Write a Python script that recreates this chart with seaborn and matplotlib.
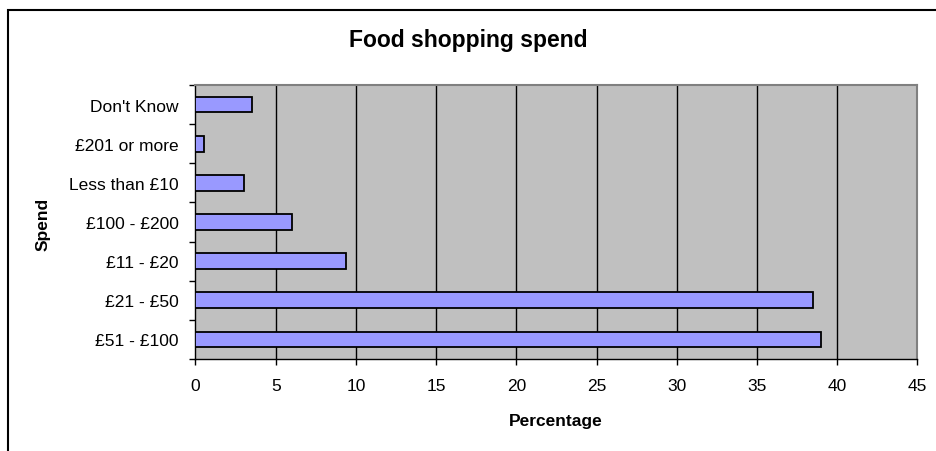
import matplotlib
matplotlib.use("Agg")
import matplotlib.pyplot as plt
import seaborn as sns
import pandas as pd
from matplotlib.patches import Rectangle
from matplotlib.ticker import FixedLocator

# Values
spend_bands = ["Don't Know", "£201 or more", "Less than £10", "£100 - £200",
               "£11 - £20", "£21 - £50", "£51 - £100"]
percentages = [3.5, 0.5, 3.0, 6.0, 9.4, 38.5, 39.0]
x_ticks = [0, 5, 10, 15, 20, 25, 30, 35, 40, 45]

df = pd.DataFrame({"Spend": spend_bands, "Percentage": percentages})

sns.set_style("white")
plt.rcParams["font.family"] = ["Liberation Sans", "DejaVu Sans"]
plt.rcParams["text.color"] = "black"
plt.rcParams["xtick.color"] = "black"
plt.rcParams["ytick.color"] = "black"
plt.rcParams["xtick.labelcolor"] = "black"
plt.rcParams["ytick.labelcolor"] = "black"

fig = plt.figure(figsize=(9.37, 4.52), dpi=100)
ax = fig.add_axes([195.5 / 937, 1 - 360 / 452, (917.3 - 195.5) / 937, (360 - 86) / 452])

sns.barplot(data=df, x="Percentage", y="Spend", orient="h", color="#9999FF",
            saturation=1, width=0.4, edgecolor="black", linewidth=1.3, ax=ax,
            zorder=3)

ax.set_facecolor("#C0C0C0")
ax.set_xlim(0, 45)
ax.set_ylim(6.5, -0.5)
ax.set_xticks(x_ticks)
ax.set_xticklabels([str(t) for t in x_ticks])
for t in x_ticks[1:-1]:
    ax.axvline(t, color="black", lw=1, zorder=1)

ax.yaxis.set_minor_locator(FixedLocator([i - 0.5 for i in range(8)]))
ax.tick_params(axis="y", which="major", length=0, pad=12, labelsize=12.5, left=True,
               labelcolor="black")
ax.tick_params(axis="y", which="minor", length=4, width=1, color="black", left=True)
ax.tick_params(axis="x", which="major", length=4, width=1, color="black", pad=10,
               labelsize=12.5, bottom=True, labelcolor="black")

for side in ["top", "right"]:
    ax.spines[side].set_color("#808080")
    ax.spines[side].set_linewidth(1.5)
for side in ["left", "bottom"]:
    ax.spines[side].set_color("black")
    ax.spines[side].set_linewidth(1)

ax.set_xlabel("")
ax.set_ylabel("")

fig.text(0.5, 1 - 40 / 452, "Food shopping spend", ha="center", va="center",
         fontsize=16.5, fontweight="bold", color="black")
fig.text(556 / 937, 1 - 422 / 452, "Percentage", ha="center", va="center",
         fontsize=12.5, fontweight="bold", color="black")
fig.text(43 / 937, 1 - 224 / 452, "Spend", ha="center", va="center",
         rotation=90, fontsize=12.5, fontweight="bold", color="black")

# outer chart frame
fig.patches.append(Rectangle((8.5 / 937, -0.1), 1.2, 0.1 + (1 - 11 / 452),
                             transform=fig.transFigure, fill=False,
                             edgecolor="black", lw=1.5))

fig.savefig("out.png", dpi=100, facecolor="white")
